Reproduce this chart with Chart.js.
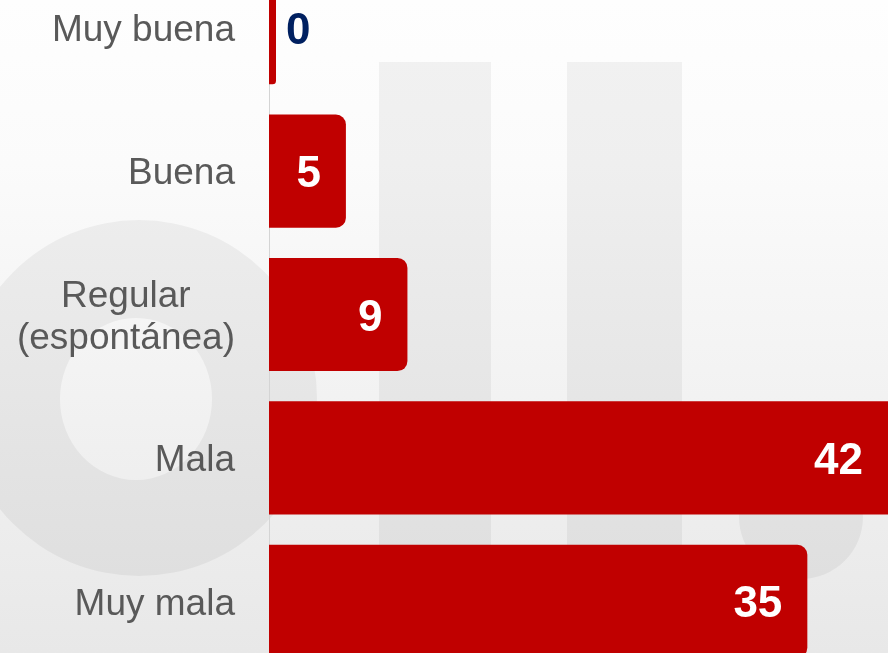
<!DOCTYPE html>
<html>
<head>
<meta charset="utf-8">
<script src="https://cdn.jsdelivr.net/npm/chart.js@4.4.1/dist/chart.umd.min.js"></script>
<style>
  html, body { margin: 0; padding: 0; width: 888px; height: 653px; overflow: hidden; background: #f4f4f4; }
  #wrap { position: absolute; left: 0; top: -44px; width: 915px; height: 717px; }
</style>
</head>
<body>
<div id="wrap"><canvas id="c"></canvas></div>
<script>
// ---- data ----
const categories = ['Muy buena', 'Buena', ['Regular\u2002\u2002\u2009', '(espontánea)'], 'Mala', 'Muy mala'];
const values = [0, 5, 9, 42, 35];
const valueLabels = ['0', '5', '9', '42', '35'];

const OFFSET_Y = 44; // canvas is shifted up by this amount

const backgroundPlugin = {
  id: 'bgWatermark',
  beforeDraw(chart) {
    const ctx = chart.ctx;
    const w = chart.width, h = chart.height;
    ctx.save();
    ctx.translate(0, OFFSET_Y);
    const g = ctx.createLinearGradient(0, 0, 0, 653);
    g.addColorStop(0, '#fefefe');
    g.addColorStop(0.25, '#fbfbfb');
    g.addColorStop(1, '#e8e8e8');
    ctx.fillStyle = g;
    ctx.fillRect(0, -OFFSET_Y, w, h);
    ctx.fillStyle = 'rgba(0,0,0,0.048)';
    ctx.fillRect(379, 62, 112, 530);
    ctx.fillRect(567, 62, 115, 530);
    ctx.beginPath();
    ctx.arc(139, 398, 178, 0, Math.PI * 2);
    ctx.ellipse(136, 399, 76, 81, 0, 0, Math.PI * 2);
    ctx.fill('evenodd');
    ctx.beginPath();
    ctx.arc(801, 517, 62, 0, Math.PI * 2);
    ctx.fill();
    ctx.restore();
  }
};

const valueLabelPlugin = {
  id: 'valueLabels',
  afterDatasetsDraw(chart) {
    const ctx = chart.ctx;
    const meta = chart.getDatasetMeta(0);
    ctx.save();
    ctx.font = 'bold 44px "Liberation Sans", Arial, sans-serif';
    ctx.textBaseline = 'middle';
    meta.data.forEach((bar, i) => {
      const v = values[i];
      if (v > 0) {
        ctx.fillStyle = '#ffffff';
        ctx.textAlign = 'right';
        ctx.fillText(valueLabels[i], Math.min(bar.x, 888) - 25, bar.y + 4);
      } else {
        ctx.fillStyle = '#002060';
        ctx.textAlign = 'left';
        ctx.fillText(valueLabels[i], bar.x + 10, bar.y + 4);
      }
    });
    ctx.restore();
  }
};

new Chart(document.getElementById('c'), {
  type: 'bar',
  data: {
    labels: categories,
    datasets: [{
      data: values,
      backgroundColor: '#C00000',
      borderWidth: 0,
      borderRadius: 10,
      borderSkipped: 'start',
      minBarLength: 7,
      barPercentage: 0.789,
      categoryPercentage: 1.0
    }]
  },
  options: {
    indexAxis: 'y',
    responsive: true,
    maintainAspectRatio: false,
    animation: false,
    layout: { padding: 0 },
    plugins: { legend: { display: false }, tooltip: { enabled: false } },
    scales: {
      x: {
        display: false,
        min: 0,
        max: 42,
        grid: { display: false }
      },
      y: {
        position: 'left',
        afterFit(scale) {
          scale.width = 269;
          scale.paddingTop = 0;
          scale.paddingBottom = 0;
        },
        grid: { display: false, drawTicks: false },
        border: { display: true, color: '#d4d4d4', width: 1 },
        ticks: {
          autoSkip: false,
          padding: 34,
          labelOffset: 3,
          color: '#595959',
          font: {
            family: '"Liberation Sans", Arial, sans-serif',
            size: 37,
            lineHeight: 1.14
          }
        }
      }
    }
  },
  plugins: [backgroundPlugin, valueLabelPlugin]
});
</script>
</body>
</html>
